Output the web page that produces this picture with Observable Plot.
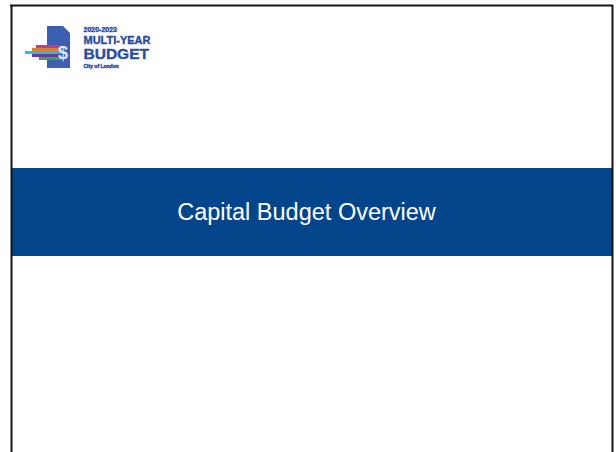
<!DOCTYPE html>
<html>
<head>
<meta charset="utf-8">
<script src="https://cdn.jsdelivr.net/npm/d3@7"></script>
<script src="https://cdn.jsdelivr.net/npm/@observablehq/plot@0.6"></script>
<style>
  html, body { margin: 0; padding: 0; background: #fff; }
  svg { display: block; }
</style>
</head>
<body>
<div id="chart"></div>
<script>
// ---- content ----
const slideTitle = ["Capital Budget Overview"];
const logoLines = ["2020-2023", "MULTI-YEAR", "BUDGET", "City of London"];
const stripeColors = ["#c23d8c", "#d9822b", "#32b4e5", "#6a3c9a", "#3ca05a"];

// ---- layout (slide coordinates in px) ----
const W = 616, H = 452;
const band = {x1: 12, x2: 612, y1: 168, y2: 256};
const frame = {left: 11, right: 612, top: 5};
const doc = [{x: 47, t: 26}, {x: 63, t: 26}, {x: 70, t: 33}];
const docBottom = 68;
const stripes = stripeColors.map((c, i) => ({
  color: c,
  x1: [36, 32, 25, 32, 39][i],
  x2: 61,
  y1: 45 + i * 3,
  y2: 48 + i * 3
}));
const logoText = logoLines.map((t, i) => ({
  text: t,
  x: 83,
  y: [29.5, 39.5, 54, 66][i],
  size: [7, 11, 15.5, 5][i]
}));

const plot = Plot.plot({
  width: W,
  height: H,
  margin: 0,
  x: {domain: [0, W], range: [0, W], axis: null},
  y: {domain: [0, H], range: [0, H], axis: null},
  style: {background: "#fff"},
  marks: [
    // blue title band
    Plot.rect([band], {x1: "x1", x2: "x2", y1: "y1", y2: "y2", fill: "#03458b"}),
    Plot.text(slideTitle, {
      x: 306,
      y: (band.y1 + band.y2) / 2,
      text: d => d,
      fill: "#ffffff",
      fontSize: 23.5,
      fontFamily: "Liberation Sans, Arial, sans-serif",
      textAnchor: "middle"
    }),
    // slide frame
    Plot.ruleX([frame.left, frame.right], {y1: frame.top, y2: H, stroke: "#151515", strokeWidth: 2}),
    Plot.ruleY([frame.top], {x1: frame.left - 1, x2: frame.right + 1, stroke: "#151515", strokeWidth: 2}),
    // logo document
    Plot.areaY(doc, {x: "x", y1: "t", y2: docBottom, fill: "#3d5fb1", curve: "linear"}),
    // logo stripes
    Plot.rect(stripes, {x1: "x1", x2: "x2", y1: "y1", y2: "y2", fill: "color"}),
    Plot.text(["$"], {
      x: 62.5, y: 52.5, text: d => d, fill: "#dfe7f6",
      fontSize: 18, fontWeight: "bold",
      fontFamily: "Liberation Sans, Arial, sans-serif"
    }),
    // logo wordmark
    Plot.text(logoText, {
      x: "x", y: "y", text: "text", fontSize: "size",
      fill: "#2b4c9e", fontWeight: "bold",
      stroke: "#2b4c9e", strokeWidth: 0.4,
      fontFamily: "Liberation Sans, Arial, sans-serif",
      textAnchor: "start", lineAnchor: "middle"
    })
  ]
});
document.getElementById("chart").append(plot);
</script>
</body>
</html>
